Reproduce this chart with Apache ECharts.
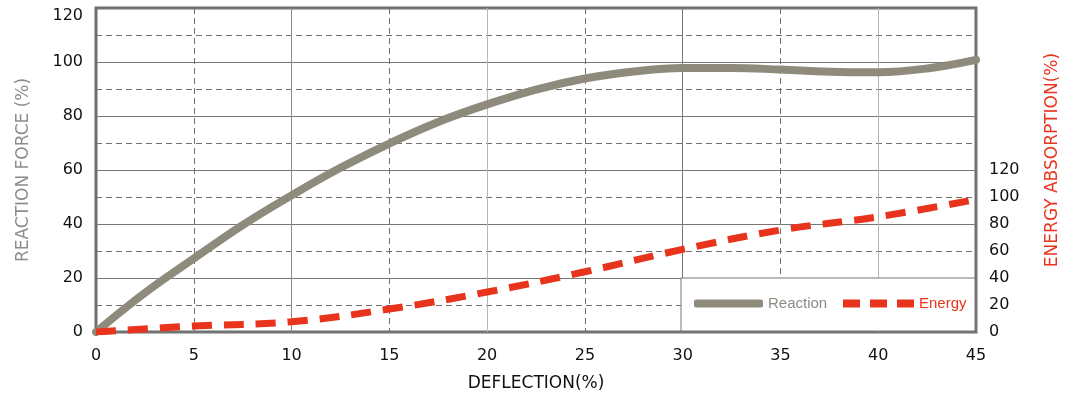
<!DOCTYPE html>
<html>
<head>
<meta charset="utf-8">
<script src="https://cdn.jsdelivr.net/npm/echarts@6/dist/echarts.min.js"></script>
<style>
html,body{margin:0;padding:0;background:#fff;}
#chart{width:1082px;height:394px;}
</style>
</head>
<body>
<div id="chart"></div>
<script>
// Deflection (%) sample points
const deflection = [0, 2.5, 5, 7.5, 10, 12.5, 15, 17.5, 20, 22.5, 25, 27.5, 30, 32.5, 35, 37.5, 40, 42.5, 45];
// Reaction force (%) on left axis
const reaction = [0, 14.5, 27.2, 39.6, 50.6, 60.8, 69.8, 77.8, 84.3, 89.8, 93.9, 96.5, 97.8, 97.8, 97.2, 96.4, 96.2, 97.6, 100.8];
// Energy absorption (%) on right axis
const energyX = [0, 5, 10, 15, 20, 25, 30, 35, 40, 45];
const energy = [0, 4.4, 7.6, 17, 29.6, 44.6, 61.2, 75.5, 85.3, 98.2];

const xTicks = [0, 5, 10, 15, 20, 25, 30, 35, 40, 45];
const leftTicks = [0, 20, 40, 60, 80, 100, 120];
const rightTicks = [0, 20, 40, 60, 80, 100, 120];

const FONT = '"DejaVu Sans", "Noto Sans", sans-serif';
const LFONT = '"Liberation Sans", Arial, sans-serif';
const C_REACT = '#8f8b7c';
const C_ENERGY = '#e8341c';

const chart = echarts.init(document.getElementById('chart'));
chart.setOption({
  animation: false,
  backgroundColor: '#fff',
  grid: {
    left: 96, right: 106, top: 8, bottom: 62,
    outerBoundsMode: 'none', containLabel: false,
    show: true, borderColor: '#6f6f6f', borderWidth: 3, backgroundColor: 'transparent'
  },
  xAxis: [
    {
      type: 'value', min: 0, max: 45, interval: 5,
      name: 'DEFLECTION(%)', nameLocation: 'middle', nameGap: 43,
      nameTextStyle: {color: '#111', fontSize: 17, fontFamily: FONT},
      axisLine: {show: false}, axisTick: {show: false},
      axisLabel: {color: '#111', fontSize: 16, fontFamily: FONT, margin: 16,
        formatter: v => xTicks.includes(v) ? String(v) : ''},
      splitLine: {show: true, lineStyle: {type: [6, 4], width: 1, color: ['transparent', '#6f6f6f']}}
    },
    {
      type: 'value', min: 0, max: 45, interval: 10, position: 'bottom',
      axisLine: {show: false}, axisTick: {show: false}, axisLabel: {show: false},
      splitLine: {show: true, lineStyle: {type: 'solid', width: 1, color: ['#6f6f6f', '#8a8a8a', '#b5b5b5', '#777', '#b5b5b5', '#777']}}
    }
  ],
  yAxis: [
    {
      type: 'value', min: 0, max: 120, interval: 20,
      name: 'REACTION FORCE (%)', nameLocation: 'middle', nameGap: 64, nameRotate: 90,
      nameTextStyle: {color: '#8c8c8c', fontSize: 17, fontFamily: FONT},
      axisLine: {show: false}, axisTick: {show: false},
      axisLabel: {color: '#111', fontSize: 16, fontFamily: FONT, margin: 13,
        verticalAlignMaxLabel: 'top',
        formatter: v => leftTicks.includes(v) ? String(v) : ''},
      splitLine: {show: true, lineStyle: {type: 'solid', width: 1, color: '#777'}}
    },
    {
      type: 'value', min: 0, max: 240, interval: 20, position: 'right',
      name: 'ENERGY ABSORPTION(%)', nameLocation: 'middle', nameGap: 68, nameRotate: 90,
      nameTextStyle: {color: C_ENERGY, fontSize: 17, fontFamily: FONT, padding: [0, 0, 0, 20]},
      axisLine: {show: false}, axisTick: {show: false},
      axisLabel: {color: '#111', fontSize: 16, fontFamily: FONT, margin: 13,
        formatter: v => rightTicks.includes(v) ? String(v) : ''},
      splitLine: {show: true, lineStyle: {type: [6, 4], width: 1, color: ['transparent', '#6f6f6f']}}
    }
  ],
  graphic: [{
    type: 'rect', z: 3,
    shape: {x: 681, y: 278, width: 294, height: 53},
    style: {fill: '#fff', stroke: '#777', lineWidth: 1}
  }],
  legend: [
    {
      data: [{name: 'Reaction', icon: 'roundRect'}], left: 694, top: 296, z: 5, padding: 0,
      itemWidth: 69, itemHeight: 8, itemGap: 0,
      itemStyle: {color: C_REACT},
      textStyle: {color: '#8a8a84', fontSize: 15, fontFamily: LFONT}
    },
    {
      data: [{name: 'Energy', icon: 'path://M0 0H17V8H0Z M27 0H44V8H27Z M54 0H71V8H54Z'}], left: 843, top: 296, z: 5, padding: 0,
      itemWidth: 71, itemHeight: 8, itemGap: 0,
      itemStyle: {color: C_ENERGY},
      textStyle: {color: C_ENERGY, fontSize: 15, fontFamily: LFONT}
    }
  ],
  series: [
    {
      name: 'Reaction', type: 'line', xAxisIndex: 0, yAxisIndex: 0,
      data: deflection.map((d, i) => [d, reaction[i]]),
      smooth: 0.4, symbol: 'none', z: 2,
      lineStyle: {color: C_REACT, width: 8, cap: 'round'},
      itemStyle: {color: C_REACT}
    },
    {
      name: 'Energy', type: 'line', xAxisIndex: 0, yAxisIndex: 1,
      data: energyX.map((d, i) => [d, energy[i]]),
      smooth: 0.4, symbol: 'none', z: 2,
      lineStyle: {color: C_ENERGY, width: 7, type: [20, 12]},
      itemStyle: {color: C_ENERGY}
    }
  ]
});
</script>
</body>
</html>
